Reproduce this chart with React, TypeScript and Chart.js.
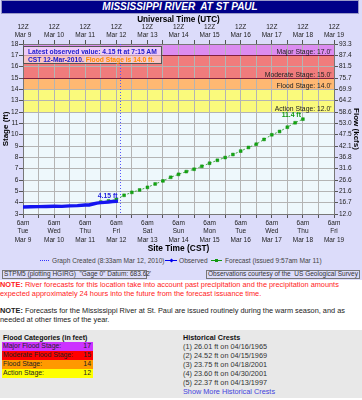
import React, { useEffect, useRef } from "react";
import { Chart, registerables } from "chart.js";
Chart.register(...registerables);

// ---------- data ----------
const chartTitle = "MISSISSIPPI RIVER  AT ST PAUL";
const stageLevels = [3, 4, 5, 6, 7, 8, 9, 10, 11, 12, 13, 14, 15, 16, 17, 18];
const flowTickLabels = ["12.0", "16.7", "21.6", "26.6", "31.6", "36.8", "42.1", "47.5", "53.0", "58.6", "64.2", "69.9", "75.7", "81.5", "87.4", "93.3"];
// hours after 6am CST Tue Mar 9 (= 12Z)
const gridHours = [0, 12, 24, 36, 48, 60, 72, 84, 96, 108, 120, 132, 144, 156, 168, 180, 192, 204, 216, 228, 240];
const siteTimeLabel = "6am";
const utcTimeLabel = "12Z";
const dayNames = ["Tue", "Wed", "Thu", "Fri", "Sat", "Sun", "Mon", "Tue", "Wed", "Thu", "Fri"];
const dateLabels = ["Mar 9", "Mar 10", "Mar 11", "Mar 12", "Mar 13", "Mar 14", "Mar 15", "Mar 16", "Mar 17", "Mar 18", "Mar 19"];

const observedHours = [0, 6, 12, 18, 24, 30, 36, 42, 48, 51, 54, 57, 60, 63, 66, 69, 72, 73.25];
const observedStage = [3.62, 3.64, 3.65, 3.66, 3.68, 3.67, 3.72, 3.74, 3.79, 3.8, 3.88, 3.96, 4.0, 4.03, 4.06, 4.1, 4.13, 4.15];
const forecastHours = [60, 66, 72, 78, 84, 90, 96, 102, 108, 114, 120, 126, 132, 138, 144, 150, 156, 162, 168, 174, 180, 186, 192, 198, 204, 210, 216];
const forecastStage = [4.05, 4.15, 4.28, 4.65, 4.91, 5.12, 5.35, 5.65, 5.92, 6.24, 6.5, 6.74, 6.95, 7.21, 7.48, 7.74, 7.98, 8.25, 8.55, 8.87, 9.16, 9.58, 9.99, 10.28, 10.66, 11.05, 11.37];
const observedLabel = "4.15 ft";
const crestLabel = "11.4 ft";
const graphCreatedHour = 74.55;

const floodStageNames = ["Action Stage", "Flood Stage", "Moderate Stage", "Major Stage"];
const floodStageLevels = [12, 14, 15, 17];

const categoryNames = ["Major Flood Stage:", "Moderate Flood Stage:", "Flood Stage:", "Action Stage:"];
const categoryValues = [17, 15, 14, 12];
const crestStages = ["26.01", "24.52", "23.75", "23.60", "22.37"];
const crestDates = ["04/16/1965", "04/15/1969", "04/18/2001", "04/30/2001", "04/13/1997"];

// ---------- styles ----------
const FONT = '"Liberation Sans", Arial, sans-serif';
const LAV = "#dcdcfa";
const bandColors = ["#fafa7c", "#ffb872", "#f07c7c", "#dc8cf0"];
const categoryColors = ["#cc33ff", "#ff0000", "#ff9900", "#ffff00"];

const hydroPlugin = {
  id: "hydro",
  beforeDraw(chart: any) {
    const { ctx, chartArea: a, scales } = chart;
    const y = scales.y;
    ctx.save();
    ctx.fillStyle = "#eef8fc";
    ctx.fillRect(a.left, a.top, a.right - a.left, a.bottom - a.top);
    const edges = [...floodStageLevels, y.max];
    for (let i = 0; i < floodStageLevels.length; i++) {
      const yt = y.getPixelForValue(edges[i + 1]);
      const yb = y.getPixelForValue(edges[i]);
      ctx.fillStyle = bandColors[i];
      ctx.fillRect(a.left, yt, a.right - a.left, yb - yt);
    }
    ctx.restore();
  },
  beforeDatasetsDraw(chart: any) {
    const { ctx, chartArea: a, scales } = chart;
    const y = scales.y;
    const x = scales.x;
    ctx.save();
    ctx.strokeStyle = "#802040";
    ctx.lineWidth = 1;
    [floodStageLevels[2], floodStageLevels[3]].forEach((lv) => {
      const py = Math.round(y.getPixelForValue(lv)) + 0.5;
      ctx.beginPath();
      ctx.moveTo(a.left, py);
      ctx.lineTo(a.right, py);
      ctx.stroke();
    });
    ctx.fillStyle = "#222";
    ctx.font = `6.8px ${FONT}`;
    ctx.textAlign = "right";
    ctx.textBaseline = "alphabetic";
    floodStageLevels.forEach((lv, i) => {
      ctx.fillText(`${floodStageNames[i]}: ${lv.toFixed(1)}'`, a.right - 2.5, y.getPixelForValue(lv) - 1.5);
    });
    const px = Math.round(x.getPixelForValue(graphCreatedHour)) + 0.5;
    ctx.strokeStyle = "#5555ff";
    ctx.setLineDash([1, 2]);
    ctx.beginPath();
    ctx.moveTo(px, a.top);
    ctx.lineTo(px, a.bottom);
    ctx.stroke();
    ctx.restore();
  },
  afterDatasetsDraw(chart: any) {
    const { ctx } = chart;
    ctx.save();
    ctx.font = `bold 6.8px ${FONT}`;
    ctx.textAlign = "right";
    ctx.textBaseline = "alphabetic";
    const obs = chart.getDatasetMeta(0).data;
    const lo = obs[obs.length - 1];
    ctx.fillStyle = "#2222dd";
    ctx.fillText(observedLabel, lo.x - 0.5, lo.y - 2.5);
    const fc = chart.getDatasetMeta(1).data;
    const lf = fc[fc.length - 1];
    ctx.fillStyle = "#119911";
    ctx.fillText(crestLabel, lf.x - 2, lf.y - 2.5);
    ctx.restore();
  },
};

const tickFont = { family: FONT, size: 6.5, lineHeight: "8.3px" };

function Txt(props: any) {
  const { x, y, size = 6.7, bold = false, color = "#222", children, style } = props;
  return (
    <div
      style={{
        position: "absolute",
        left: x,
        top: y - 5,
        height: 10,
        lineHeight: "10px",
        fontSize: size,
        fontWeight: bold ? "bold" : "normal",
        color,
        whiteSpace: "pre",
        ...style,
      }}
    >
      {children}
    </div>
  );
}

export default function App() {
  const ref = useRef<HTMLCanvasElement>(null);
  useEffect(() => {
    document.body.style.margin = "0";
    const canvas = ref.current!;
    const chart = new Chart(canvas, {
      type: "line",
      data: {
        datasets: [
          {
            label: "Observed",
            data: observedHours.map((h, i) => ({ x: h, y: observedStage[i] })),
            borderColor: "#1414f0",
            borderWidth: 3.4,
            pointRadius: 0,
            tension: 0,
          },
          {
            label: "Forecast",
            data: forecastHours.map((h, i) => ({ x: h, y: forecastStage[i] })),
            borderColor: "#44aa44",
            borderWidth: 1,
            borderDash: [2, 2],
            pointStyle: "rect",
            pointRadius: 2,
            pointBackgroundColor: "#11aa11",
            pointBorderColor: "#118811",
            pointBorderWidth: 0.5,
            tension: 0,
          },
        ],
      },
      options: {
        responsive: false,
        animation: false,
        devicePixelRatio: 1,
        layout: { padding: { top: 15, left: 0, right: 0, bottom: 0 } },
        plugins: { legend: { display: false }, tooltip: { enabled: false }, title: { display: false } },
        scales: {
          x: {
            type: "linear",
            position: "bottom",
            min: 0,
            max: 240,
            afterBuildTicks: (s: any) => {
              s.ticks = gridHours.map((v) => ({ value: v }));
            },
            afterFit: (s: any) => {
              s.height = 42;
            },
            ticks: {
              autoSkip: false,
              maxRotation: 0,
              minRotation: 0,
              padding: 1,
              color: "#222",
              font: tickFont,
              callback: (v: any) => {
                const h = Number(v);
                if (h % 24 !== 0) return "";
                const i = h / 24;
                return [siteTimeLabel, dayNames[i], dateLabels[i]];
              },
            },
            grid: { color: "#b4b4b4", lineWidth: 1, tickLength: 4, tickColor: "#555" },
            border: { color: "#777" },
            title: {
              display: true,
              text: "Site Time (CST)",
              color: "#000",
              font: { family: FONT, size: 8.4, weight: "bold", lineHeight: "10px" },
              padding: { top: 0, bottom: 2 },
            },
          },
          xTop: {
            type: "linear",
            position: "top",
            min: 0,
            max: 240,
            afterBuildTicks: (s: any) => {
              s.ticks = gridHours.map((v) => ({ value: v }));
            },
            afterFit: (s: any) => {
              s.height = 29;
            },
            ticks: {
              autoSkip: false,
              maxRotation: 0,
              minRotation: 0,
              padding: 0.5,
              color: "#222",
              font: tickFont,
              callback: (v: any) => {
                const h = Number(v);
                if (h % 24 !== 0) return "";
                const i = h / 24;
                return [utcTimeLabel, dateLabels[i]];
              },
            },
            grid: { drawOnChartArea: false, tickLength: 4, tickColor: "#555" },
            border: { color: "#777" },
            title: {
              display: true,
              text: "Universal Time (UTC)",
              color: "#000",
              font: { family: FONT, size: 8.2, weight: "bold", lineHeight: "10px" },
              padding: { top: 0, bottom: 0 },
            },
          },
          y: {
            type: "linear",
            position: "left",
            min: 3,
            max: 18,
            afterBuildTicks: (s: any) => {
              s.ticks = stageLevels.map((v) => ({ value: v }));
            },
            afterFit: (s: any) => {
              s.width = 23;
            },
            ticks: { autoSkip: false, padding: 0.7, color: "#222", font: { family: FONT, size: 6.6 } },
            grid: { color: "#b4b4b4", lineWidth: 1, tickLength: 4, tickColor: "#555" },
            border: { color: "#777" },
            title: {
              display: true,
              text: "Stage (ft)",
              color: "#000",
              font: { family: FONT, size: 8, weight: "bold" },
              padding: { top: 0.7, bottom: 0 },
            },
          },
          yFlow: {
            type: "linear",
            position: "right",
            min: 3,
            max: 18,
            afterBuildTicks: (s: any) => {
              s.ticks = stageLevels.map((v) => ({ value: v }));
            },
            afterFit: (s: any) => {
              s.width = 28;
            },
            ticks: {
              autoSkip: false,
              padding: 1,
              color: "#222",
              font: { family: FONT, size: 6.5 },
              callback: (v: any) => flowTickLabels[stageLevels.indexOf(Number(v))],
            },
            grid: { drawOnChartArea: false, tickLength: 4, tickColor: "#555" },
            border: { color: "#777" },
            title: {
              display: true,
              text: "Flow (kcfs)",
              color: "#000",
              font: { family: FONT, size: 8, weight: "bold" },
              padding: { top: 0.7, bottom: 0 },
            },
          },
        },
      } as any,
      plugins: [hydroPlugin as any],
    });
    return () => chart.destroy();
  }, []);

  return (
    <div style={{ position: "relative", width: 362, height: 400, background: "#fff", fontFamily: FONT, overflow: "hidden" }}>
      <div style={{ position: "absolute", left: 0, top: 0, width: 362, height: 280, background: LAV }} />
      <canvas ref={ref} width={362} height={256} style={{ position: "absolute", left: 0, top: 0, width: 362, height: 256 }} />
      {/* title bar */}
      <div
        style={{
          position: "absolute",
          left: 1,
          top: 0,
          width: 358,
          height: 14,
          boxSizing: "border-box",
          background: "#000088",
          border: "1px solid #9a9ac8",
          color: "#fff",
          fontWeight: "bold",
          fontStyle: "italic",
          fontSize: 10,
          lineHeight: "12px",
          textAlign: "center",
          whiteSpace: "pre",
        }}
      >
        {chartTitle}
      </div>
      {/* latest observation box */}
      <div
        style={{
          position: "absolute",
          left: 23,
          top: 46,
          width: 139,
          height: 18,
          boxSizing: "border-box",
          border: "1px solid #555",
          background: "rgba(255,255,255,0.55)",
          fontSize: 6.7,
          fontWeight: "bold",
          lineHeight: "8px",
          paddingLeft: 4,
          paddingTop: 0.5,
          whiteSpace: "pre",
          color: "#1a1acc",
        }}
      >
        <div>Latest observed value: 4.15 ft at 7:15 AM</div>
        <div>
          CST 12-Mar-2010. <span style={{ color: "#ff8c00" }}>Flood Stage is 14.0 ft.</span>
        </div>
      </div>
      {/* legend */}
      <div style={{ position: "absolute", left: 40, top: 260, width: 9, borderTop: "1px dotted #3333ff" }} />
      <Txt x={52} y={260.5} size={6.6} color="#444">Graph Created (8:33am Mar 12, 2010)</Txt>
      <div style={{ position: "absolute", left: 165, top: 260, width: 12, borderTop: "1px solid #0000ee" }} />
      <div style={{ position: "absolute", left: 169.5, top: 258.5, width: 3, height: 3, background: "#0000ee", transform: "rotate(45deg)" }} />
      <Txt x={179} y={260.5} size={6.6} color="#444">Observed</Txt>
      <div style={{ position: "absolute", left: 211, top: 260, width: 11, borderTop: "1px solid #119911" }} />
      <div style={{ position: "absolute", left: 215, top: 259, width: 3, height: 3, background: "#119911" }} />
      <Txt x={225} y={260.5} size={6.6} color="#444">Forecast (issued 9:57am Mar 11)</Txt>
      {/* info boxes */}
      <div style={{ position: "absolute", left: 2, top: 270, width: 145, height: 9, boxSizing: "border-box", border: "1px solid #777" }} />
      <Txt x={4} y={274.3} size={6.5} color="#333">STPM5 (plotting HGIRG)  "Gage 0" Datum: 683.62'</Txt>
      <div style={{ position: "absolute", left: 206, top: 270, width: 154, height: 9, boxSizing: "border-box", border: "1px solid #777" }} />
      <Txt x={208} y={274.3} size={6.5} color="#333">Observations courtesy of the  US Geological Survey</Txt>
      {/* notes */}
      <Txt x={0} y={285} size={7.35} color="#ff2222">
        <b>NOTE:</b> River forecasts for this location take into account past precipitation and the precipitation amounts
      </Txt>
      <Txt x={0} y={294} size={7.35} color="#ff2222">
        expected approximately 24 hours into the future from the forecast issuance time.
      </Txt>
      <Txt x={0} y={311} size={7.35} color="#222">
        <b>NOTE:</b> Forecasts for the Mississippi River at St. Paul are issued routinely during the warm season, and as
      </Txt>
      <Txt x={0} y={320} size={7.35} color="#222">
        needed at other times of the year.
      </Txt>
      {/* bottom panel */}
      <div style={{ position: "absolute", left: 0, top: 330, width: 362, height: 68, background: "#e8e8e8" }} />
      <Txt x={3} y={337.7} size={7} bold color="#111">Flood Categories (in feet)</Txt>
      {categoryNames.map((n, i) => (
        <div
          key={n}
          style={{
            position: "absolute",
            left: 2,
            top: 342.4 + i * 8.8,
            width: 91,
            height: 8.8,
            background: categoryColors[i],
            fontSize: 6.9,
            lineHeight: "8.8px",
            color: "#222",
            whiteSpace: "pre",
          }}
        >
          <span style={{ position: "absolute", left: 1 }}>{n}</span>
          <span style={{ position: "absolute", right: 2 }}>{categoryValues[i]}</span>
        </div>
      ))}
      <Txt x={183} y={337.7} size={7.2} bold color="#111">Historical Crests</Txt>
      {crestStages.map((s, i) => (
        <Txt key={i} x={183} y={346.7 + i * 9} size={7.3} color="#333">
          ({i + 1}) {s} ft on {crestDates[i]}
        </Txt>
      ))}
      <Txt x={183} y={391.7} size={7.3} color="#4444dd">Show More Historical Crests</Txt>
    </div>
  );
}
